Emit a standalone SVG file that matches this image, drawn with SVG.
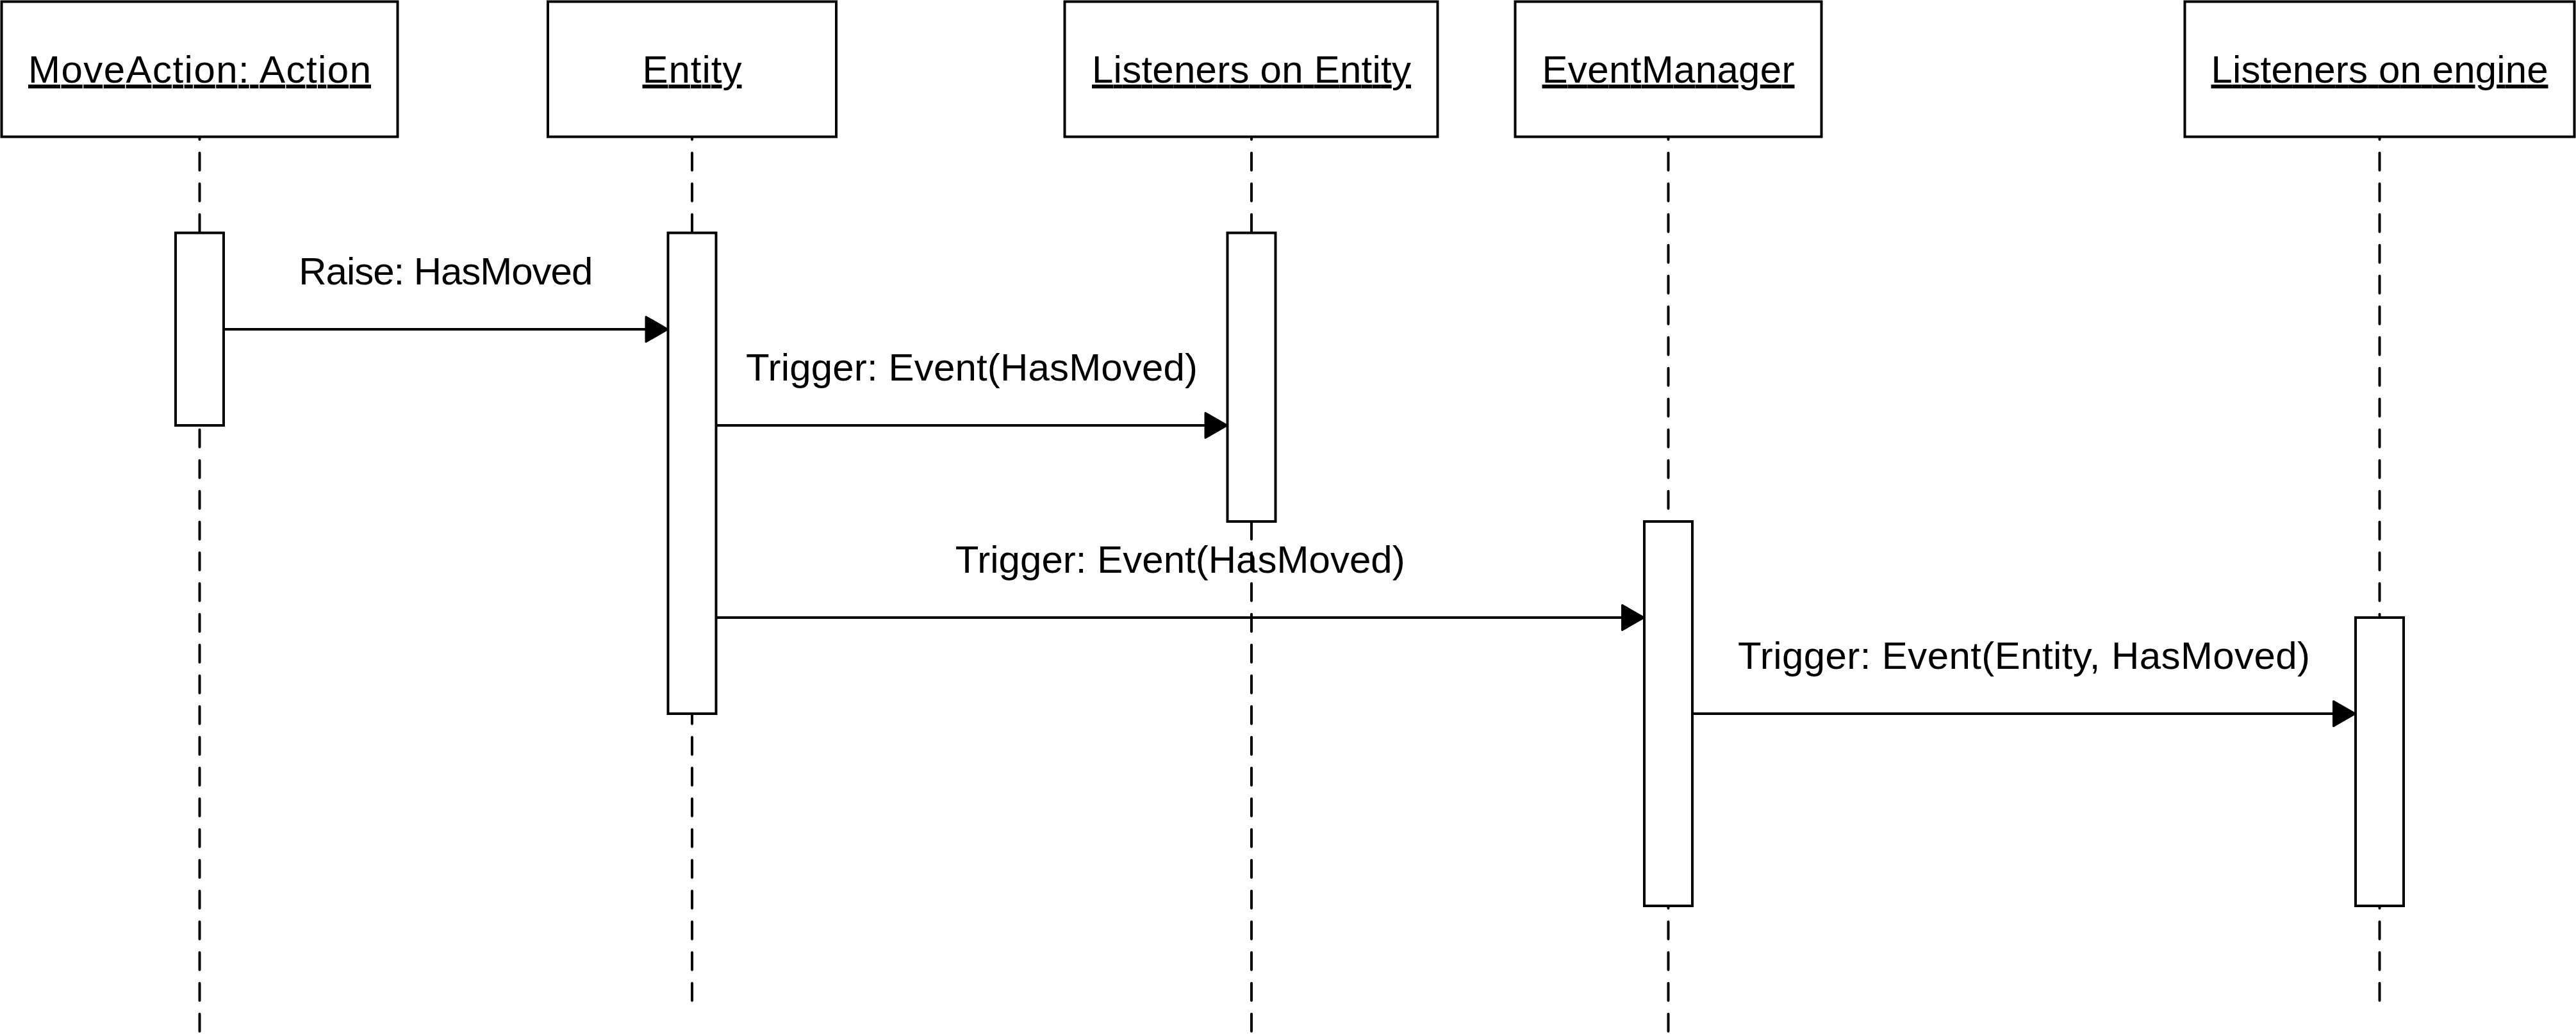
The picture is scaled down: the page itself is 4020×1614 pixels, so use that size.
<svg xmlns="http://www.w3.org/2000/svg" width="4020" height="1614" viewBox="0 0 4020 1614">
  <style>
    .box { fill: #ffffff; stroke: #000000; stroke-width: 4; }
    .act { fill: #ffffff; stroke: #000000; stroke-width: 4; }
    .life { stroke: #000000; stroke-width: 4; stroke-linecap: round; stroke-dasharray: 27 21; stroke-dashoffset: 22.3; fill: none; }
    .head { font-family: "Liberation Sans", Arial, sans-serif; font-size: 60px; fill: #000000; text-anchor: middle; text-decoration: underline; }
    .msg { stroke: #000000; stroke-width: 4; fill: none; }
    .lbl { font-family: "Liberation Sans", Arial, sans-serif; font-size: 60px; fill: #000000; text-anchor: middle; }
  </style>
  <defs>
    <marker id="arrow" markerUnits="userSpaceOnUse" viewBox="0 0 38 42" refX="36" refY="21" markerWidth="38" markerHeight="42" orient="auto" overflow="visible">
      <path d="M1.5,1.5 L35.5,21 L1.5,40.5 Z" fill="#000000" stroke="#000000" stroke-width="3" stroke-linejoin="round"/>
    </marker>
  </defs>
  <rect width="4020" height="1614" fill="#ffffff"/>

  <g id="moveaction">
    <line class="life" x1="311.5" y1="213" x2="311.5" y2="1612"/>
    <rect class="box" x="2.5" y="2.5" width="618" height="211"/>
    <text class="head" x="311.5" y="129" textLength="535">MoveAction: Action</text>
    <rect class="act" x="274" y="363.5" width="75" height="300.5"/>
  </g>

  <g id="entity">
    <line class="life" x1="1080" y1="213" x2="1080" y2="1564"/>
    <rect class="box" x="855" y="2.5" width="450" height="211"/>
    <text class="head" x="1080" y="129" textLength="155">Entity</text>
    <rect class="act" x="1042.5" y="363.5" width="75" height="750.5"/>
  </g>

  <g id="listeners-on-entity">
    <line class="life" x1="1953" y1="213" x2="1953" y2="1612"/>
    <rect class="box" x="1661.5" y="2.5" width="582" height="211"/>
    <text class="head" x="1953" y="129" textLength="498">Listeners on Entity</text>
    <rect class="act" x="1915.5" y="363.5" width="75" height="450.5"/>
  </g>

  <g id="eventmanager">
    <line class="life" x1="2603.5" y1="213" x2="2603.5" y2="1612"/>
    <rect class="box" x="2364.5" y="2.5" width="478" height="211"/>
    <text class="head" x="2603.5" y="129" textLength="394">EventManager</text>
    <rect class="act" x="2566" y="814" width="75" height="600"/>
  </g>

  <g id="listeners-on-engine">
    <line class="life" x1="3713.5" y1="213" x2="3713.5" y2="1564"/>
    <rect class="box" x="3409.5" y="2.5" width="608" height="211"/>
    <text class="head" x="3713.5" y="129" textLength="526">Listeners on engine</text>
    <rect class="act" x="3676" y="964" width="75" height="450"/>
  </g>

  <g id="connectors">
    <line class="msg" x1="349" y1="514" x2="1042.5" y2="514" marker-end="url(#arrow)"/>
    <text class="lbl" x="695.75" y="444" textLength="459">Raise: HasMoved</text>

    <line class="msg" x1="1117.5" y1="664" x2="1915.5" y2="664" marker-end="url(#arrow)"/>
    <text class="lbl" x="1516.5" y="594" textLength="705">Trigger: Event(HasMoved)</text>

    <line class="msg" x1="1117.5" y1="964" x2="2566" y2="964" marker-end="url(#arrow)"/>
    <text class="lbl" x="1841.75" y="894" textLength="702">Trigger: Event(HasMoved)</text>

    <line class="msg" x1="2641" y1="1114" x2="3676" y2="1114" marker-end="url(#arrow)"/>
    <text class="lbl" x="3158.5" y="1044" textLength="893">Trigger: Event(Entity, HasMoved)</text>
  </g>
</svg>
